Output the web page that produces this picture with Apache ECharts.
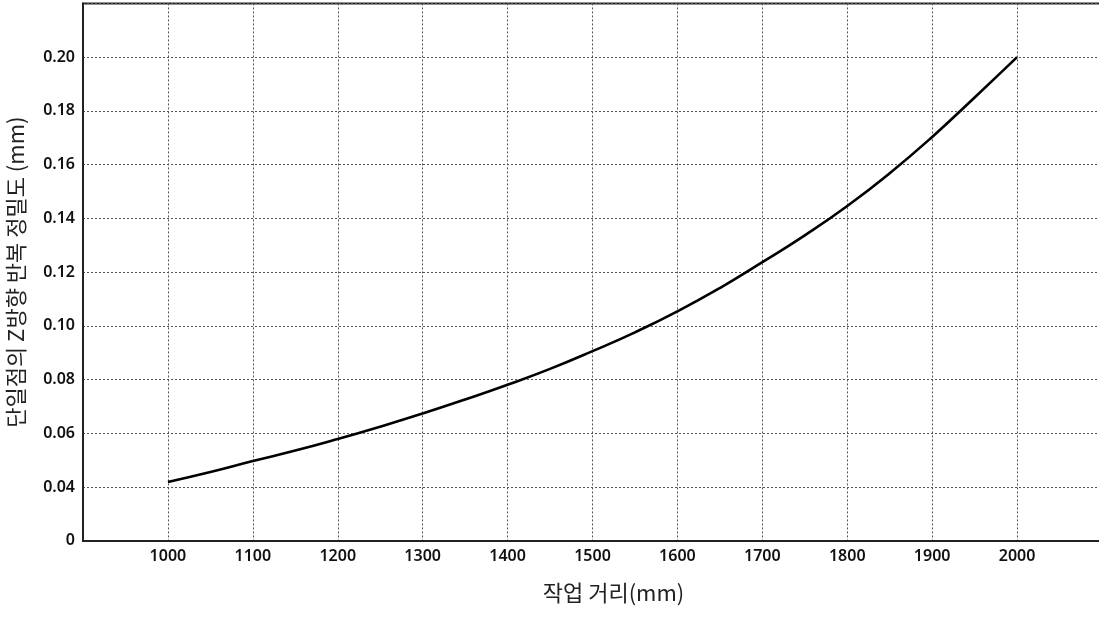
<!DOCTYPE html>
<html>
<head>
<meta charset="utf-8">
<script src="https://cdn.jsdelivr.net/npm/echarts@6/dist/echarts.min.js"></script>
<style>
html,body{margin:0;padding:0;background:#fff;}
#chart{width:1099px;height:619px;}
</style>
</head>
<body>
<div id="chart"></div>
<script>
// Data
const workDistance = [1000, 1050, 1100, 1150, 1200, 1250, 1300, 1350, 1400, 1450, 1500,
                      1550, 1600, 1650, 1700, 1750, 1800, 1850, 1900, 1950, 2000];
const precision    = [0.0419, 0.0456, 0.0497, 0.0536, 0.0579, 0.0625, 0.0674, 0.0726, 0.0781, 0.0840, 0.0906,
                      0.0976, 0.1054, 0.1141, 0.1237, 0.1337, 0.1446, 0.1568, 0.1703, 0.1850, 0.2000];
const xAxisTitle = '작업 거리(mm)';
const yAxisTitle = '단일점의 Z방향 반복 정밀도 (mm)';

const chart = echarts.init(document.getElementById('chart'), null, {renderer: 'canvas'});
const labelFont = {fontFamily: 'Noto Sans', fontSize: 16, fontWeight: 600, color: '#111'};
const gridLine = {show: true, lineStyle: {type: [2, 2], color: '#555', width: 1}};

chart.setOption({
  animation: false,
  backgroundColor: '#fff',
  grid: {left: 83, top: 3.4, width: 1019, height: 537.5, show: true, borderColor: '#222', borderWidth: 2,
         containLabel: false, outerBoundsMode: 'none'},
  xAxis: {
    type: 'value', min: 900, max: 2100, interval: 100,
    axisLine: {show: true, lineStyle: {color: '#222', width: 2}},
    axisTick: {show: false},
    splitLine: gridLine,
    axisLabel: Object.assign({margin: 8, formatter: v => (v === 900 || v === 2100) ? '' : String(v)}, labelFont),
    name: xAxisTitle, nameLocation: 'middle', nameGap: 41,
    nameTextStyle: {fontFamily: 'Noto Sans CJK KR', fontSize: 22, color: '#222', padding: [0, 0, 0, 42]}
  },
  yAxis: {
    type: 'value', min: 0.02, max: 0.22, interval: 0.02,
    axisLine: {show: true, lineStyle: {color: '#222', width: 2}},
    axisTick: {show: false},
    splitLine: gridLine,
    axisLabel: Object.assign({margin: 8, showMaxLabel: false,
      formatter: v => Math.abs(v - 0.02) < 1e-9 ? '0' : (Math.abs(v - 0.22) < 1e-9 ? '' : v.toFixed(2))}, labelFont),
    name: yAxisTitle, nameLocation: 'middle', nameGap: 56, nameRotate: 90,
    nameTextStyle: {fontFamily: 'Noto Sans CJK KR', fontSize: 22, color: '#222'}
  },
  series: [{
    type: 'line',
    data: workDistance.map((x, i) => [x, precision[i]]),
    smooth: 0.5,
    showSymbol: false,
    lineStyle: {color: '#000', width: 2.6}
  }]
});
</script>
</body>
</html>
